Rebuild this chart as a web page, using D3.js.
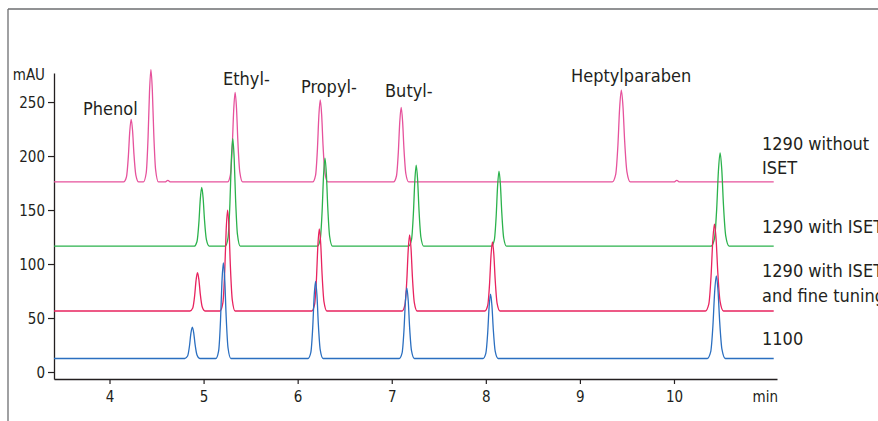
<!DOCTYPE html>
<html>
<head>
<meta charset="utf-8">
<script src="https://cdn.jsdelivr.net/npm/d3@7"></script>
<style>
  html, body { margin: 0; padding: 0; background: #fff; }
  svg { display: block; }
  text { font-family: "DejaVu Sans Condensed", "DejaVu Sans", sans-serif; font-stretch: condensed; fill: #231f20; }
</style>
</head>
<body>
<svg id="chart" width="878" height="421"></svg>
<script>
// ---------- DATA ----------
const seriesNames = ["1290 without ISET", "1290 with ISET", "1290 with ISET and fine tuning", "1100"];

// [time (min), signal (mAU)]
const without1290 = [
  [3.41,176],[4.15,176],[4.18,180.6],[4.20,199.2],[4.215,222.4],[4.23,234],[4.245,223.6],[4.26,201.5],[4.28,182.4],[4.31,176],
  [4.36,176],[4.39,184.3],[4.41,217.6],[4.425,259.2],[4.44,280],[4.455,261.3],[4.47,221.8],[4.49,187.4],[4.52,176],
  [4.59,176],[4.62,177.5],[4.65,176],
  [5.255,176],[5.285,182.6],[5.305,209.2],[5.32,242.4],[5.335,259],[5.35,244.1],[5.365,212.5],[5.385,185.1],[5.415,176],
  [6.16,176],[6.19,182.1],[6.21,206.4],[6.225,236.8],[6.24,252],[6.255,238.3],[6.27,209.4],[6.29,184.4],[6.32,176],
  [7.02,176],[7.05,181.5],[7.07,203.6],[7.085,231.2],[7.10,245],[7.115,232.6],[7.13,206.4],[7.15,183.6],[7.18,176],
  [9.344,176],[9.38,182.8],[9.404,210],[9.422,244],[9.44,261],[9.458,245.7],[9.476,213.4],[9.50,185.4],[9.536,176],
  [10.0,176],[10.03,177.5],[10.06,176],
  [11.06,176]
];
const withISET = [
  [3.41,116.5],[4.90,116.5],[4.93,120.9],[4.95,138.3],[4.965,160.1],[4.98,171],[4.995,161.2],[5.01,140.5],[5.03,122.5],[5.06,116.5],
  [5.23,116.5],[5.26,124.5],[5.28,156.3],[5.295,196.1],[5.31,216],[5.325,198.1],[5.34,160.3],[5.36,127.4],[5.39,116.5],
  [6.21,116.5],[6.24,123],[6.26,149.1],[6.275,181.7],[6.29,198],[6.305,183.3],[6.32,152.4],[6.34,125.5],[6.37,116.5],
  [7.18,116.5],[7.21,122.5],[7.23,146.5],[7.245,176.5],[7.26,191.5],[7.275,178],[7.29,149.5],[7.31,124.8],[7.34,116.5],
  [8.06,116.5],[8.09,122.1],[8.11,144.3],[8.125,172.1],[8.14,186],[8.155,173.5],[8.17,147.1],[8.19,124.1],[8.22,116.5],
  [10.394,116.5],[10.43,123.4],[10.454,151.1],[10.472,185.7],[10.49,203],[10.508,187.4],[10.526,154.6],[10.55,126],[10.586,116.5],
  [11.06,116.5]
];
const withISETfine = [
  [3.41,56.5],[4.855,56.5],[4.885,59.3],[4.905,70.7],[4.92,84.9],[4.935,92],[4.95,85.6],[4.965,72.1],[4.985,60.4],[5.015,56.5],
  [5.175,56.5],[5.205,64],[5.225,93.9],[5.24,131.3],[5.255,150],[5.27,133.2],[5.285,97.6],[5.305,66.8],[5.335,56.5],
  [6.15,56.5],[6.18,62.6],[6.20,86.9],[6.215,117.3],[6.23,132.5],[6.245,118.8],[6.26,89.9],[6.28,64.9],[6.31,56.5],
  [7.11,56.5],[7.14,62.1],[7.16,84.7],[7.175,112.9],[7.19,127],[7.205,114.3],[7.22,87.5],[7.24,64.3],[7.27,56.5],
  [7.99,56.5],[8.02,61.6],[8.04,82.1],[8.055,107.7],[8.07,120.5],[8.085,109],[8.10,84.7],[8.12,63.5],[8.15,56.5],
  [10.334,56.5],[10.37,62.9],[10.394,88.7],[10.412,120.9],[10.43,137],[10.448,122.5],[10.466,91.9],[10.49,65.4],[10.526,56.5],
  [11.06,56.5]
];
const hp1100 = [
  [3.41,12.5],[4.80,12.5],[4.83,14.8],[4.85,24.1],[4.865,35.7],[4.88,41.5],[4.895,36.3],[4.91,25.3],[4.93,15.7],[4.96,12.5],
  [5.13,12.5],[5.16,19.6],[5.18,47.9],[5.195,83.3],[5.21,101],[5.225,85.1],[5.24,51.4],[5.26,22.2],[5.29,12.5],
  [6.11,12.5],[6.14,18.2],[6.16,41.1],[6.175,69.7],[6.19,84],[6.205,71.1],[6.22,44],[6.24,20.4],[6.27,12.5],
  [7.08,12.5],[7.11,17.7],[7.13,38.7],[7.145,64.9],[7.16,78],[7.175,66.2],[7.19,41.3],[7.21,19.7],[7.24,12.5],
  [7.97,12.5],[8.0,17.3],[8.02,36.3],[8.035,60.1],[8.05,72],[8.065,61.3],[8.08,38.7],[8.10,19],[8.13,12.5],
  [10.354,12.5],[10.39,18.6],[10.414,43.1],[10.432,73.7],[10.45,89],[10.468,75.2],[10.486,46.2],[10.51,20.9],[10.546,12.5],
  [11.06,12.5]
];

const compoundNames = ["Phenol", "Ethyl-", "Propyl-", "Butyl-", "Heptylparaben"];
const xTicks = [4, 5, 6, 7, 8, 9, 10];
const yTicks = [0, 50, 100, 150, 200, 250];
const xUnit = "min";
const yUnit = "mAU";

// ---------- LAYOUT / STYLE ----------
const colors = ["#e6529c", "#2bb24c", "#e8235f", "#2b6fc0"];
const seriesData = [without1290, withISET, withISETfine, hp1100];
const seriesLabelLines = [["1290 without", "ISET"], ["1290 with ISET"], ["1290 with ISET", "and fine tuning"], ["1100"]];
const seriesLabelY = [149.5, 233, 277, 345];
const compoundLabelPos = [[83, 115], [223, 85], [301, 93], [385, 97], [571, 82]];

const svg = d3.select("#chart");

// frame (top and left border)
svg.append("line").attr("x1", 8).attr("y1", 9).attr("x2", 878).attr("y2", 9)
  .attr("stroke", "#6d6e71").attr("stroke-width", 1.3);
svg.append("line").attr("x1", 8).attr("y1", 9).attr("x2", 8).attr("y2", 421)
  .attr("stroke", "#6d6e71").attr("stroke-width", 1.3);

const x = d3.scaleLinear().domain([3.41, 11.095]).range([54, 777]);
const y = d3.scaleLinear().domain([-6.48, 276.9]).range([379, 73]);

// axes
const xAxis = svg.append("g").attr("transform", "translate(0,379)")
  .call(d3.axisBottom(x).tickValues(xTicks).tickSize(5).tickSizeOuter(0).tickFormat(d3.format("d")));
const yAxis = svg.append("g").attr("transform", "translate(54,0)")
  .call(d3.axisLeft(y).tickValues(yTicks).tickSize(6).tickSizeOuter(0).tickFormat(d3.format("d")));

[xAxis, yAxis].forEach(g => {
  g.select(".domain").attr("stroke", "#231f20").attr("stroke-width", 1.3);
  g.selectAll(".tick line").attr("stroke", "#231f20").attr("stroke-width", 1.2);
  g.selectAll(".tick text").attr("fill", "#231f20")
    .style("font-family", '"DejaVu Sans Condensed", "DejaVu Sans", sans-serif')
    .style("font-stretch", "condensed").style("font-size", "15px");
});
xAxis.selectAll(".tick text").attr("y", 23).attr("dy", 0);
yAxis.selectAll(".tick text").attr("x", -9).attr("dy", "0.36em");

svg.append("text").attr("x", 778).attr("y", 402).attr("text-anchor", "end")
  .style("font-size", "15px").text(xUnit);
svg.append("text").attr("x", 45).attr("y", 79.5).attr("text-anchor", "end")
  .style("font-size", "15px").text(yUnit);

// traces
const line = d3.line().x(d => x(d[0])).y(d => y(d[1])).curve(d3.curveMonotoneX);
svg.append("g").selectAll("path").data(seriesData).join("path")
  .attr("d", line).attr("fill", "none")
  .attr("stroke", (d, i) => colors[i]).attr("stroke-width", 1.3)
  .attr("stroke-linejoin", "round");

// compound labels
svg.append("g").selectAll("text").data(compoundNames).join("text")
  .attr("x", (d, i) => compoundLabelPos[i][0]).attr("y", (d, i) => compoundLabelPos[i][1])
  .style("font-size", "18px").text(d => d);

// series labels
seriesLabelLines.forEach((lines, i) => {
  const t = svg.append("text").attr("x", 762).attr("y", seriesLabelY[i]).style("font-size", "18px");
  lines.forEach((s, j) => t.append("tspan").attr("x", 762).attr("dy", j === 0 ? 0 : 24.5).text(s));
});
</script>
</body>
</html>
